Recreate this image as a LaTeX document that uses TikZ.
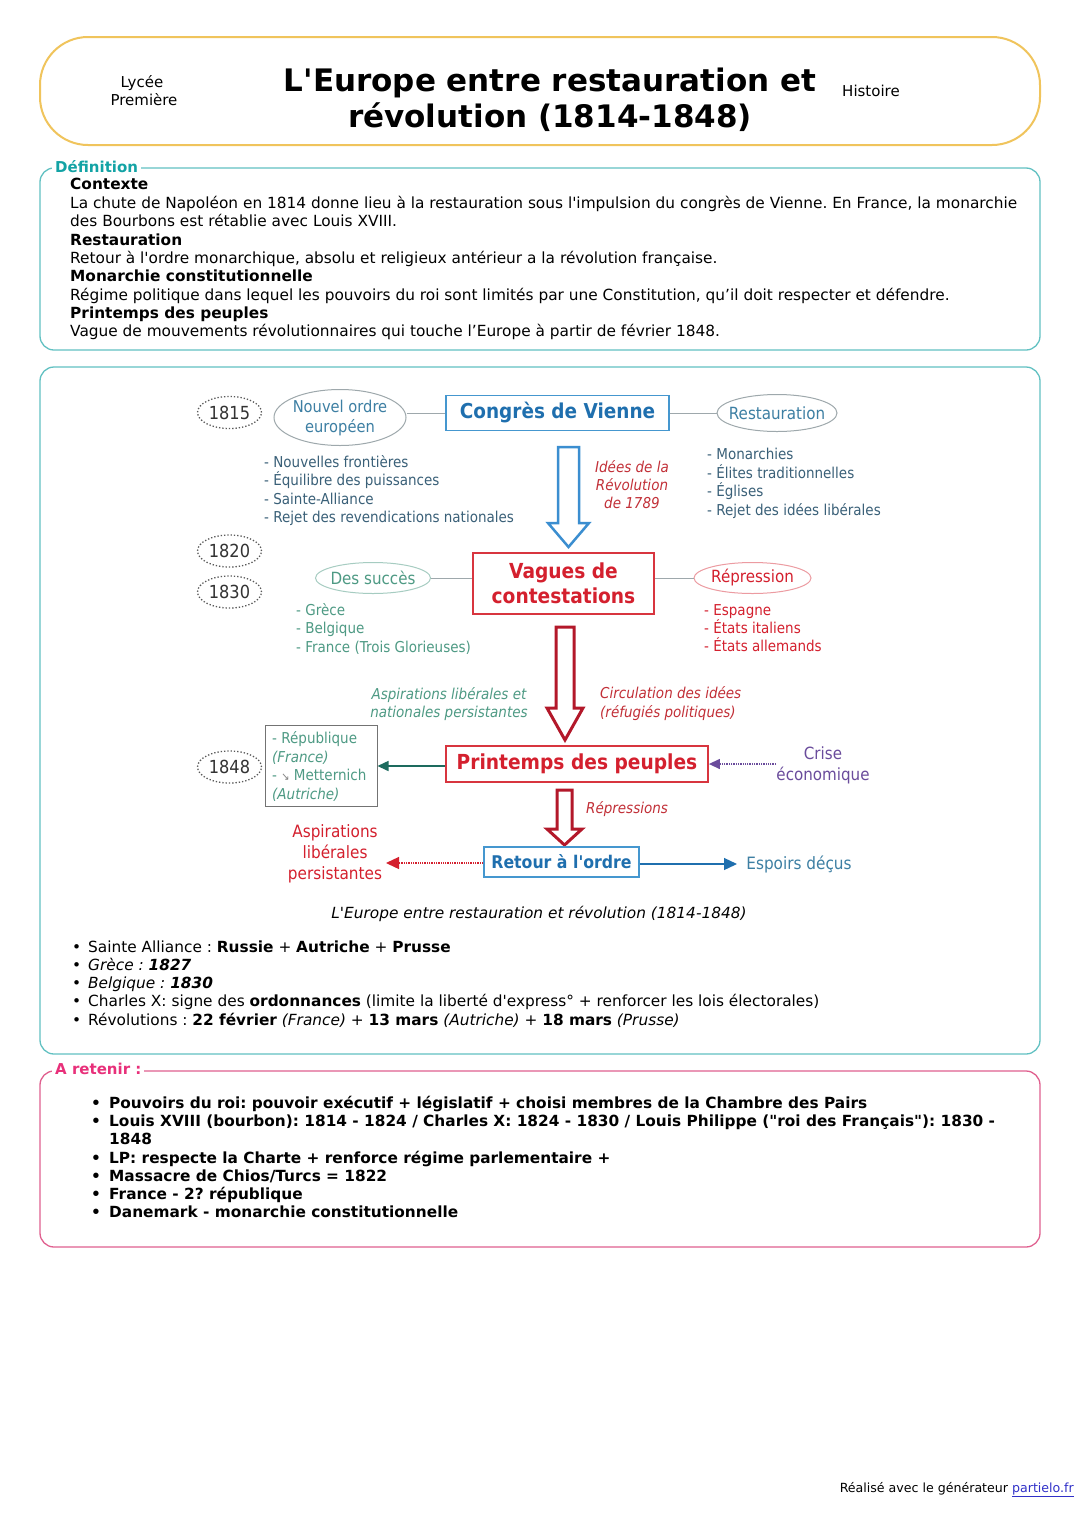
\documentclass[tikz,border=0pt]{standalone}
\usepackage{fontspec}
\setmainfont{DejaVu Sans}[Ligatures=TeXOff]
\newfontfamily\dia{DejaVu Sans}[FakeStretch=0.9,Ligatures=TeXOff]
\usetikzlibrary{shapes.geometric,arrows.meta}
\definecolor{hdrc}{HTML}{F0C45C}
\definecolor{tealB}{HTML}{62C1C2}
\definecolor{tealL}{HTML}{13A3A5}
\definecolor{pinkB}{HTML}{E0608F}
\definecolor{pinkL}{HTML}{E8307A}
\definecolor{dblue}{HTML}{1F6FAE}
\definecolor{bblue}{HTML}{4597CF}
\definecolor{eltx}{HTML}{3D7FA3}
\definecolor{lst}{HTML}{3A6078}
\definecolor{dred}{HTML}{D4202E}
\definecolor{rbord}{HTML}{D8353F}
\definecolor{ritl}{HTML}{C23038}
\definecolor{grn}{HTML}{4E9A84}
\definecolor{dgrn}{HTML}{1D6B5E}
\definecolor{purp}{HTML}{6A4C9C}
\definecolor{gline}{HTML}{9EA8AC}
\definecolor{arrred}{HTML}{B3182A}
\definecolor{linkc}{HTML}{3030C8}
\definecolor{arrblue}{HTML}{3B8ED0}
\begin{document}
\frenchspacing
\begin{tikzpicture}[x=1pt,y=-1pt,
  body/.style={font=\fontsize{15.35}{18}\selectfont, anchor=base west, inner sep=0},
  bodyb/.style={body, font=\fontsize{15.35}{18}\selectfont\bfseries},
  dt/.style={font=\dia\fontsize{15}{18}\selectfont, inner sep=0},
  elt/.style={font=\dia\fontsize{16.8}{21}\selectfont, inner sep=0},
  ovalshape/.style={ellipse, line width=1pt, inner sep=0},
  yearel/.style={ellipse, draw=black!65, dotted, line width=1.3pt, minimum width=64pt, minimum height=32pt, inner sep=0, font=\dia\fontsize{18}{20}\selectfont, text=black!80},
  boxlbl/.style={anchor=west, fill=white, inner xsep=3pt, inner ysep=1pt, font=\fontsize{15}{17}\selectfont\bfseries},
  hollow/.style={line width=2.5pt, line join=miter, fill=white},
  conn/.style={draw=gline, line width=1pt}
]
\useasboundingbox (0,0) rectangle (1080,1526);
\fill[white] (0,0) rectangle (1080,1526);

% ---------- Header ----------
\draw[hdrc, line width=2pt, fill=white, rounded corners=48pt] (40,37) rectangle (1040,145);
\node[font=\fontsize{15}{17}\selectfont, anchor=base, inner sep=0] (lyc) at (142,87.5) {Lycée};
\node[font=\fontsize{15}{17}\selectfont, anchor=base, inner sep=0] (prem) at (144,105.5) {Première};
\node[font=\fontsize{31}{36}\selectfont\bfseries, anchor=base, inner sep=0] (t1) at (550,91) {L'Europe entre restauration et};
\node[font=\fontsize{31}{36}\selectfont\bfseries, anchor=base, inner sep=0] (t2) at (550,127) {révolution (1814-1848)};
\node[font=\fontsize{15}{17}\selectfont, anchor=base, inner sep=0] (hist) at (871,96.5) {Histoire};

% ---------- Definition box ----------
\draw[tealB, line width=1.3pt, rounded corners=14pt] (40,168) rectangle (1040,350);
\node[boxlbl, text=tealL] (deflbl) at (52,167) {Définition};
\node[bodyb] (d1) at (70,189) {Contexte};
\node[body] (d2) at (70,208) {La chute de Napoléon en 1814 donne lieu à la restauration sous l'impulsion du congrès de Vienne. En France, la monarchie};
\node[body] (d3) at (70,226) {des Bourbons est rétablie avec Louis XVIII.};
\node[bodyb] (d4) at (70,245) {Restauration};
\node[body] (d5) at (70,263) {Retour à l'ordre monarchique, absolu et religieux antérieur a la révolution française.};
\node[bodyb] (d6) at (70,281) {Monarchie constitutionnelle};
\node[body] (d7) at (70,300) {Régime politique dans lequel les pouvoirs du roi sont limités par une Constitution, qu’il doit respecter et défendre.};
\node[bodyb] (d8) at (70,318) {Printemps des peuples};
\node[body] (d9) at (70,336) {Vague de mouvements révolutionnaires qui touche l’Europe à partir de février 1848.};

% ---------- Main box ----------
\draw[tealB, line width=1.3pt, rounded corners=14pt] (40,367) rectangle (1040,1054);

% years
\node[yearel] (y1815) at (229.5,412.5) {1815};
\node[yearel] (y1820) at (229.5,551) {1820};
\node[yearel] (y1830) at (229.5,592) {1830};
\node[yearel] (y1848) at (229.5,767) {1848};

% top row
\node[ovalshape, draw=gline, minimum width=132pt, minimum height=56pt] (nouvel) at (340,417.5) {};
\node[elt, text=eltx, align=center, font=\dia\fontsize{16.3}{20.5}\selectfont] (nouvelt) at (340,418) {Nouvel ordre\\européen};
\node[draw=bblue, line width=1.8pt, minimum width=223pt, minimum height=35pt, inner sep=0, font=\dia\fontsize{20.5}{22}\selectfont\bfseries, text=dblue] (congres) at (557.5,413) {Congrès de Vienne};
\node[ovalshape, draw=gline, minimum width=120pt, minimum height=37pt] (resto) at (777,413) {};
\node[elt, text=eltx] (restot) at (777,413) {Restauration};
\draw[conn] (nouvel.east |- congres.west) -- (congres.west);
\draw[conn] (congres.east) -- (resto.west);

\foreach \t [count=\i] in {- Nouvelles frontières, - Équilibre des puissances, - Sainte-Alliance, - Rejet des revendications nationales}
  \node[dt, anchor=base west, text=lst] (lg\i) at (264,{462+(\i-1)*18.4+5.4}) {\t};
\foreach \t [count=\i] in {- Monarchies, - Élites traditionnelles, - Églises, - Rejet des idées libérales}
  \node[dt, anchor=base west, text=lst] (ld\i) at (707,{454+(\i-1)*18.6+5.4}) {\t};

\node[dt, anchor=base, text=ritl, font=\dia\fontsize{15}{18}\selectfont\itshape] (id1) at (632,472.4) {Idées de la};
\node[dt, anchor=base, text=ritl, font=\dia\fontsize{15}{18}\selectfont\itshape] (id2) at (632,490.4) {Révolution};
\node[dt, anchor=base, text=ritl, font=\dia\fontsize{15}{18}\selectfont\itshape] (id3) at (632,508.4) {de 1789};

% hollow arrow 1
\draw[hollow, draw=arrblue] (558,447) -- (579,447) -- (579,523) -- (589,523) -- (568.5,547) -- (548,523) -- (558,523) -- cycle;

% middle row
\node[draw=rbord, line width=1.8pt, minimum width=181pt, minimum height=61pt, inner sep=0, font=\dia\fontsize{20.7}{25.5}\selectfont\bfseries, text=dred, align=center] (vagues) at (563.5,583.5) {Vagues de\\contestations};
\node[ovalshape, draw=grn!50, minimum width=115pt, minimum height=31pt] (succes) at (373,578) {};
\node[elt, text=grn] (succest) at (373,578) {Des succès};
\node[ovalshape, draw=dred!45, minimum width=117pt, minimum height=31pt] (repr) at (752.5,578) {};
\node[elt, text=dred] (reprt) at (752.5,578) {Répression};
\draw[conn] (succes.east) -- (succes.east -| vagues.west);
\draw[conn] (vagues.east |- repr.west) -- (repr.west);

\foreach \t [count=\i] in {- Grèce, - Belgique, - France (Trois Glorieuses)}
  \node[dt, anchor=base west, text=grn] (lgr\i) at (296,{610+(\i-1)*18.5+5.4}) {\t};
\foreach \t [count=\i] in {- Espagne, - États italiens, - États allemands}
  \node[dt, anchor=base west, text=dred] (lrd\i) at (704,{610+(\i-1)*18.2+5.4}) {\t};

% hollow arrow 2
\draw[hollow, draw=arrred, line width=3pt] (556,627) -- (574,627) -- (574,708) -- (583,708) -- (565,740) -- (547,708) -- (556,708) -- cycle;

\node[dt, anchor=base, text=grn, font=\dia\fontsize{15}{18}\selectfont\itshape] (asp1) at (449,699.4) {Aspirations libérales et};
\node[dt, anchor=base, text=grn, font=\dia\fontsize{15}{18}\selectfont\itshape] (asp2) at (449,717.4) {nationales persistantes};
\node[dt, anchor=base west, text=ritl, font=\dia\fontsize{15}{18}\selectfont\itshape] (circ1) at (600,698.4) {Circulation des idées};
\node[dt, anchor=base west, text=ritl, font=\dia\fontsize{15}{18}\selectfont\itshape] (circ2) at (600,717.4) {(réfugiés politiques)};

% Printemps row
\node[draw=rbord, line width=1.8pt, minimum width=262pt, minimum height=36pt, inner sep=0, font=\dia\fontsize{20.7}{22}\selectfont\bfseries, text=dred] (print) at (577,764) {Printemps des peuples};
\node[draw=black!55, line width=1pt, minimum width=112pt, minimum height=81pt, inner sep=0] (repbox) at (321,765.5) {};
\node[dt, anchor=base west, text=grn] (rb1) at (272,743.4) {- République};
\node[dt, anchor=base west, text=grn, font=\dia\fontsize{15}{18}\selectfont\itshape] (rb2) at (272,762.4) {(France)};
\node[dt, anchor=base west, text=grn] (rb3) at (272,780.4) {- {\color{black!50}\fontsize{11}{12}\selectfont ↘} Metternich};
\node[dt, anchor=base west, text=grn, font=\dia\fontsize{15}{18}\selectfont\itshape] (rb4) at (272,799.4) {(Autriche)};
\draw[draw=dgrn, line width=1.5pt, -{Triangle[length=11pt,width=10pt]}] (print.west |- 0,766) -- (repbox.east |- 0,766);

\node[elt, text=purp, align=center] (crise) at (823,765.5) {Crise\\économique};
\coordinate (crisestart) at (776,764);
\draw[draw=purp, line width=1.3pt, densely dotted, -{Triangle[length=11pt,width=10pt]}] (crisestart) -- (print.east |- crisestart);

% hollow arrow 3
\draw[hollow, draw=arrred, line width=3pt] (557,790) -- (572,790) -- (572,829) -- (582,829) -- (564.5,845) -- (547,829) -- (557,829) -- cycle;
\node[dt, anchor=base, text=ritl, font=\dia\fontsize{15}{18}\selectfont\itshape] (reps) at (627,813.4) {Répressions};

% Retour row
\node[draw=bblue, line width=1.5pt, minimum width=155pt, minimum height=30pt, inner sep=0, font=\dia\fontsize{17.5}{20}\selectfont\bfseries, text=dblue] (retour) at (561.5,862) {Retour à l'ordre};
\node[dt, text=dred, align=center, font=\dia\fontsize{17}{21}\selectfont] (aspl) at (335,854) {Aspirations\\libérales\\persistantes};
\node[dt, text=eltx, font=\dia\fontsize{17}{20}\selectfont] (espo) at (799,864) {Espoirs déçus};
\coordinate (aspend) at (386,863);
\coordinate (espend) at (737,864);
\draw[draw=dred, line width=1.3pt, densely dotted, -{Triangle[length=13pt,width=12pt]}] (retour.west |- aspend) -- (aspend);
\draw[draw=dblue, line width=1.3pt, -{Triangle[length=13pt,width=12pt]}] (retour.east |- espend) -- (espend);

% caption
\node[font=\fontsize{15.35}{18}\selectfont\itshape, anchor=base, inner sep=0] (cap) at (539,918) {L'Europe entre restauration et révolution (1814-1848)};

% bullets
\foreach \yy [count=\i] in {947,965,983,1001,1020}
  \node[body] (bu\i) at (72,\yy+5) {•};
\node[body] (b1) at (88,952) {Sainte Alliance : \textbf{Russie} + \textbf{Autriche} + \textbf{Prusse}};
\node[body] (b2) at (88,970) {\textit{Grèce : \textbf{1827}}};
\node[body] (b3) at (88,988) {\textit{Belgique : \textbf{1830}}};
\node[body] (b4) at (88,1006) {Charles X: signe des \textbf{ordonnances} (limite la liberté d'express° + renforcer les lois électorales)};
\node[body] (b5) at (88,1025) {Révolutions : \textbf{22 février} \textit{(France)} + \textbf{13 mars} \textit{(Autriche)} + \textbf{18 mars} \textit{(Prusse)}};

% ---------- A retenir ----------
\draw[pinkB, line width=1.3pt, rounded corners=14pt] (40,1071) rectangle (1040,1247);
\node[boxlbl, text=pinkL] (retlbl) at (52,1069) {A retenir :};
\foreach \yy [count=\i] in {1103,1121,1158,1176,1194,1212}
  \node[bodyb] (rb\i) at (91,\yy+5) {•};
\node[bodyb] (r1) at (109,1108) {Pouvoirs du roi: pouvoir exécutif + législatif + choisi membres de la Chambre des Pairs};
\node[bodyb] (r2) at (109,1126) {Louis XVIII (bourbon): 1814 - 1824 / Charles X: 1824 - 1830 / Louis Philippe ("roi des Français"): 1830 -};
\node[bodyb] (r2b) at (109,1144) {1848};
\node[bodyb] (r3) at (109,1163) {LP: respecte la Charte + renforce régime parlementaire +};
\node[bodyb] (r4) at (109,1181) {Massacre de Chios/Turcs = 1822};
\node[bodyb] (r5) at (109,1199) {France - 2? république};
\node[bodyb] (r6) at (109,1217) {Danemark - monarchie constitutionnelle};

% footer
\node[font=\fontsize{12.6}{14}\selectfont, anchor=base east, inner sep=0] (foot) at (1074,1492.5) {Réalisé avec le générateur \textcolor{linkc}{\underline{partielo.fr}}};
\end{tikzpicture}
\end{document}
